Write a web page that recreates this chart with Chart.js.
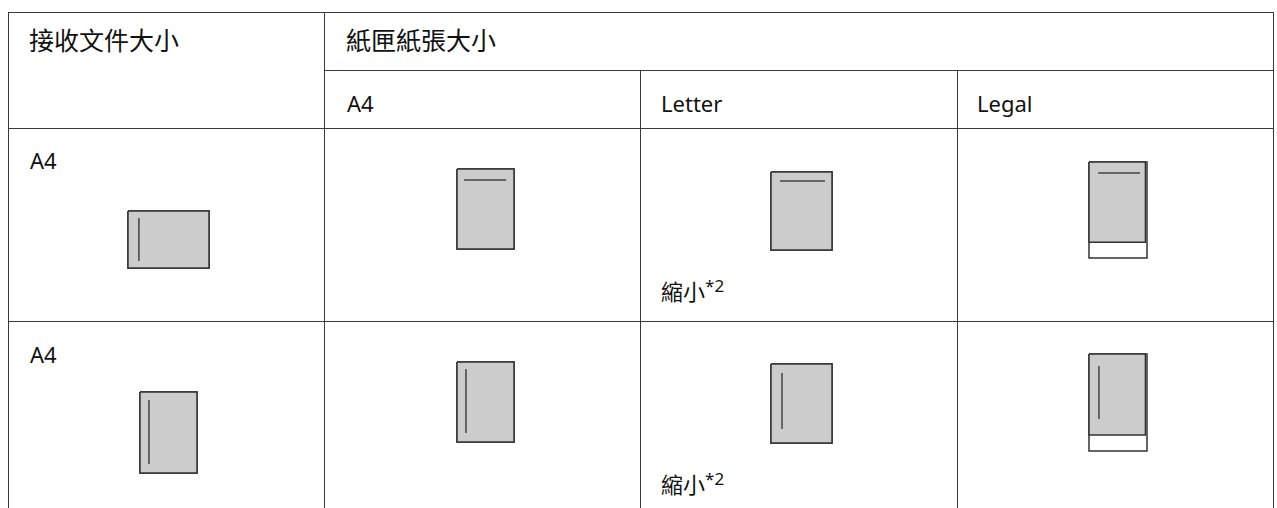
<!DOCTYPE html>
<html>
<head>
<meta charset="utf-8">
<script src="https://cdn.jsdelivr.net/npm/chart.js@4.4.1/dist/chart.umd.min.js"></script>
<style>
  html, body { margin: 0; padding: 0; background: #fff; }
  body { width: 1277px; height: 508px; position: relative; overflow: hidden; color: #111; }
  .ln { position: absolute; background: #3a3a3a; }
  .t { position: absolute; white-space: nowrap; font-size: 22px; line-height: 22px; }
  .lat { font-family: "Noto Sans", "Open Sans", sans-serif; }
  .cjk { font-family: "Noto Sans CJK TC", "Noto Sans CJK SC", sans-serif; }
  .head { font-size: 25px; line-height: 25px; }
  .ref { font-family: "Noto Sans", sans-serif; font-size: 17px; position: relative; top: -8px; margin-left: 0; }
  canvas.icon { position: absolute; }
</style>
</head>
<body>
<script>
// table headings
const headReceived = '接收文件大小';
const headTray = '紙匣紙張大小';

// received document (rows)
const receivedLabels = ['A4', 'A4'];
const receivedWidthMm = [297, 210];   // first row arrives landscape, second portrait
const receivedHeightMm = [210, 297];
const receivedMarks = [[40, 26, 40, 184], [33, 29, 33, 264]];

// tray paper (columns)
const trayLabels = ['A4', 'Letter', 'Legal'];
const trayWidthMm = [210, 215.9, 215.9];
const trayHeightMm = [297, 279.4, 355.6];
const printWidthMm = [210, 215.9, 210];
const printHeightMm = [297, 279.4, 297];
const trayNotes = ['', '縮小', ''];
const trayNoteRefs = ['', '*2', ''];
const trayMarksRow1 = [[26, 41, 181, 41], [32, 32, 191, 32], [34, 41, 190, 41]];
const trayMarksRow2 = [[33, 26, 33, 264], [39, 32, 39, 230], [37, 44, 37, 238]];
const trayMarks = [trayMarksRow1, trayMarksRow2];

// ---- layout (pixels) ----
const colX = [8, 324, 640, 957, 1273];
const topY = 12, subY = 70, headBottom = 128, rowLine = 321, pageBottom = 508;
const rowLabelTop = [149, 343];
const noteTop = [279, 472];
const receivedBoxes = [
  { x: 128, y: 211, w: 81, h: 57 },
  { x: 140, y: 392, w: 57, h: 81 },
];
const trayBoxes = [
  [{ x: 457, y: 169, w: 57, h: 80 }, { x: 771, y: 172, w: 61, h: 78 }, { x: 1089, y: 162, w: 58, h: 96 }],
  [{ x: 457, y: 362, w: 57, h: 80 }, { x: 771, y: 364, w: 61, h: 79 }, { x: 1089, y: 354, w: 58, h: 97 }],
];

function line(x, y, w, h) {
  const d = document.createElement('div');
  d.className = 'ln';
  Object.assign(d.style, { left: x + 'px', top: y + 'px', width: w + 'px', height: h + 'px' });
  document.body.appendChild(d);
}

function text(str, x, y, cls, ref) {
  const s = document.createElement('span');
  s.className = 't ' + cls;
  s.style.left = x + 'px';
  s.style.top = y + 'px';
  s.textContent = str;
  if (ref) {
    const r = document.createElement('span');
    r.className = 'ref';
    r.textContent = ref;
    s.appendChild(r);
  }
  document.body.appendChild(s);
}

// grid
line(colX[0], topY, colX[4] - colX[0] + 1, 1);
line(colX[1], subY, colX[4] - colX[1] + 1, 1);
line(colX[0], headBottom, colX[4] - colX[0] + 1, 1);
line(colX[0], rowLine, colX[4] - colX[0] + 1, 1);
line(colX[0], topY, 1, pageBottom - topY);
line(colX[1], topY, 1, pageBottom - topY);
line(colX[2], subY, 1, pageBottom - subY);
line(colX[3], subY, 1, pageBottom - subY);
line(colX[4], topY, 1, pageBottom - topY);

// texts
text(headReceived, 29, 27, 'cjk head');
text(headTray, 346, 27, 'cjk head');
const subLeft = [347, 661, 977];
trayLabels.forEach((l, i) => text(l, subLeft[i], 91.5, 'lat'));
receivedLabels.forEach((l, i) => text(l, 30, rowLabelTop[i], 'lat'));
trayNotes.forEach((n, i) => {
  if (!n) return;
  noteTop.forEach(y => text(n, 661, y, 'cjk', trayNoteRefs[i]));
});

const outline = (w, h) => [{ x: 0, y: 0 }, { x: w, y: 0 }, { x: w, y: h }, { x: 0, y: h }, { x: 0, y: 0 }];

function makeIcon(box, paperW, paperH, printW, printH, mark) {
  const pad = 2;
  const canvas = document.createElement('canvas');
  canvas.className = 'icon';
  canvas.width = box.w + pad * 2;
  canvas.height = box.h + pad * 2;
  canvas.style.left = (box.x - pad) + 'px';
  canvas.style.top = (box.y - pad) + 'px';
  document.body.appendChild(canvas);
  new Chart(canvas.getContext('2d'), {
    type: 'line',
    data: {
      datasets: [
        { data: [{ x: mark[0], y: mark[1] }, { x: mark[2], y: mark[3] }],
          borderColor: '#444', borderWidth: 1.5, fill: false },
        { data: outline(printW, printH),
          borderColor: '#333', borderWidth: 1.5, backgroundColor: '#cccccc', fill: 'shape' },
        { data: outline(paperW, paperH),
          borderColor: '#333', borderWidth: 1.5, backgroundColor: '#ffffff', fill: 'shape' },
      ]
    },
    options: {
      responsive: false,
      animation: false,
      events: [],
      layout: { padding: pad },
      elements: { point: { radius: 0 }, line: { tension: 0, borderCapStyle: 'butt', borderJoinStyle: 'miter' } },
      datasets: { line: { clip: false } },
      plugins: { legend: { display: false }, tooltip: { enabled: false } },
      scales: {
        x: { type: 'linear', min: 0, max: paperW, display: false },
        y: { type: 'linear', min: 0, max: paperH, reverse: true, display: false }
      }
    }
  });
}

receivedLabels.forEach((l, r) => {
  makeIcon(receivedBoxes[r], receivedWidthMm[r], receivedHeightMm[r],
           receivedWidthMm[r], receivedHeightMm[r], receivedMarks[r]);
  trayLabels.forEach((t, c) => {
    makeIcon(trayBoxes[r][c], trayWidthMm[c], trayHeightMm[c],
             printWidthMm[c], printHeightMm[c], trayMarks[r][c]);
  });
});
</script>
</body>
</html>
